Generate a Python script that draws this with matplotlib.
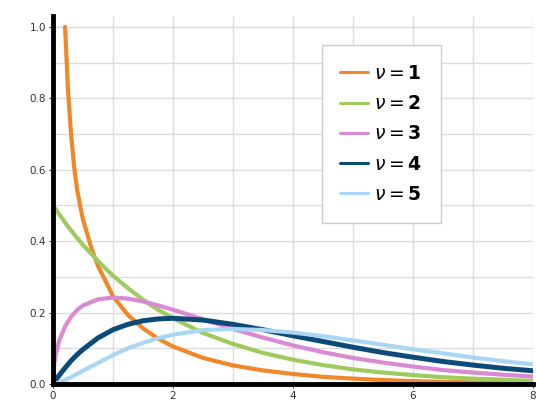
import matplotlib
matplotlib.use("Agg")
import matplotlib.pyplot as plt
from matplotlib.ticker import MultipleLocator

# Values
x1 = [0.20, 0.25, 0.30, 0.35, 0.40, 0.45, 0.5, 0.65, 0.75, 0.95, 1.0, 1.25, 1.5, 1.75, 2.0, 2.5, 3.0, 3.5, 4.0, 4.5, 5.0, 5.5, 6.0, 6.5, 7.0, 7.5, 8.0]
y1 = [1.00, 0.82, 0.70, 0.61, 0.545, 0.50, 0.46, 0.375, 0.33, 0.263, 0.245, 0.193, 0.156, 0.127, 0.105, 0.073, 0.052, 0.038, 0.028, 0.020, 0.015, 0.011, 0.008, 0.006, 0.0045, 0.0033, 0.0025]

xs = [0.0, 0.02, 0.05, 0.1, 0.2, 0.3, 0.4, 0.5, 0.75, 1.0, 1.25, 1.5, 1.75, 2.0, 2.5, 3.0, 3.5, 4.0, 4.5, 5.0, 5.5, 6.0, 6.5, 7.0, 7.5, 8.0]
y2 = [0.500, 0.495, 0.488, 0.476, 0.452, 0.430, 0.409, 0.389, 0.344, 0.303, 0.268, 0.236, 0.208, 0.184, 0.143, 0.112, 0.087, 0.068, 0.053, 0.041, 0.032, 0.025, 0.019, 0.015, 0.012, 0.009]
y3 = [0.000, 0.056, 0.087, 0.120, 0.161, 0.188, 0.207, 0.220, 0.237, 0.242, 0.239, 0.231, 0.220, 0.208, 0.181, 0.154, 0.130, 0.108, 0.089, 0.073, 0.060, 0.049, 0.039, 0.032, 0.026, 0.021]
y4 = [0.000, 0.005, 0.012, 0.024, 0.045, 0.065, 0.082, 0.097, 0.129, 0.152, 0.167, 0.177, 0.182, 0.184, 0.179, 0.167, 0.152, 0.135, 0.119, 0.103, 0.088, 0.075, 0.063, 0.053, 0.044, 0.037]
y5 = [0.000, 0.0004, 0.0015, 0.004, 0.011, 0.019, 0.028, 0.037, 0.059, 0.081, 0.100, 0.115, 0.128, 0.138, 0.151, 0.154, 0.151, 0.144, 0.134, 0.122, 0.110, 0.097, 0.086, 0.074, 0.064, 0.055]

labels = [r"$\nu = \mathbf{1}$", r"$\nu = \mathbf{2}$", r"$\nu = \mathbf{3}$", r"$\nu = \mathbf{4}$", r"$\nu = \mathbf{5}$"]
colors = ["#f0882a", "#9fcb5e", "#d98ad2", "#0c4a78", "#a9d6f2"]
widths = [3.0, 3.0, 3.0, 3.6, 3.0]
xticks = [0, 2, 4, 6, 8]
yticks = [0.0, 0.2, 0.4, 0.6, 0.8, 1.0]

fig = plt.figure(figsize=(5.36, 4.12), dpi=100)
ax = fig.add_axes([0.099, 0.068, 0.895, 0.893])

series = [(x1, y1), (xs, y2), (xs, y3), (xs, y4), (xs, y5)]
for (xx, yy), lab, col, w in zip(series, labels, colors, widths):
    ax.plot(xx, yy, color=col, lw=w, label=lab, solid_capstyle="round")

ax.set_xlim(0, 8)
ax.set_ylim(0, 1.03)
ax.set_xticks(xticks)
ax.set_yticks(yticks)
ax.set_yticklabels([f"{v:.1f}" for v in yticks])
ax.xaxis.set_minor_locator(MultipleLocator(1))
ax.yaxis.set_minor_locator(MultipleLocator(0.1))
ax.grid(True, which="both", color="#dcdcdc", lw=1.0)
ax.set_axisbelow(True)

for s in ["top", "right"]:
    ax.spines[s].set_visible(False)
for s in ["left", "bottom"]:
    ax.spines[s].set_linewidth(3.5)
    ax.spines[s].set_color("black")
ax.tick_params(which="major", length=3, width=0.8, labelsize=7.5, colors="#333333", pad=2)
ax.tick_params(which="minor", length=0)

leg = ax.legend(loc="upper left", bbox_to_anchor=(0.56, 0.921), borderaxespad=0, fontsize=13.5,
                frameon=True, fancybox=False, edgecolor="#cccccc", framealpha=1,
                handlelength=1.45, handletextpad=0.35, labelspacing=0.6, borderpad=1.0)
leg.get_frame().set_linewidth(1.0)
for line in leg.get_lines():
    line.set_linewidth(2.2)

fig.savefig("out.png", dpi=100)
